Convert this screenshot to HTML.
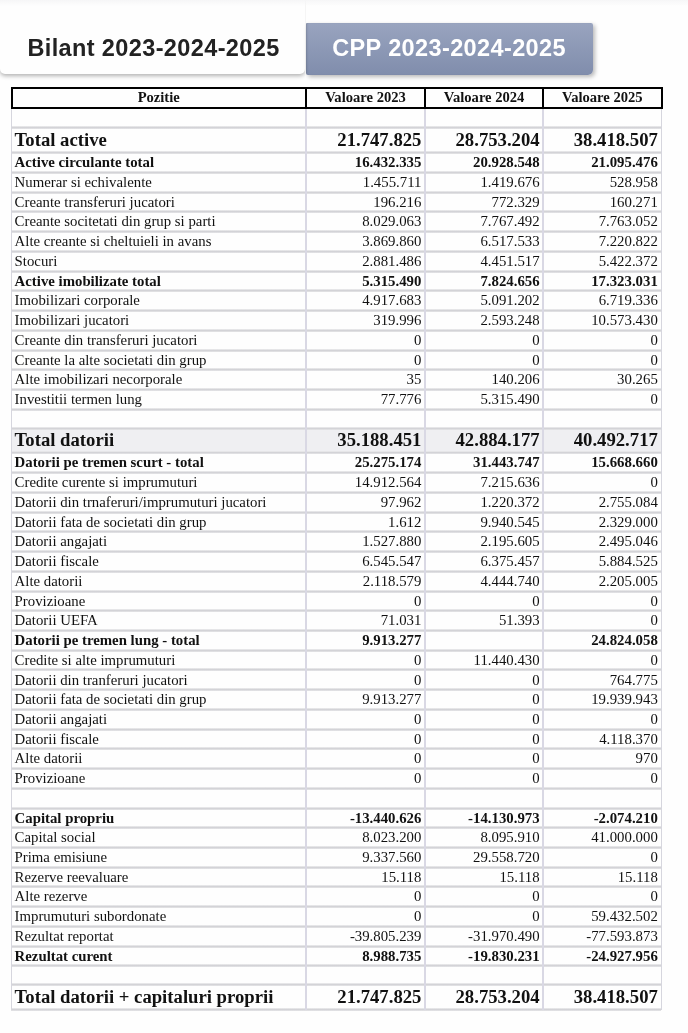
<!DOCTYPE html>
<html><head><meta charset="utf-8"><style>
*{margin:0;padding:0;box-sizing:border-box}
html,body{width:688px;height:1033px;overflow:hidden;background:#fefefe;position:relative}
.t{position:absolute;white-space:nowrap;font-family:"Liberation Serif",serif;color:#111;line-height:1;-webkit-text-stroke:0px #111}
.hl{position:absolute;height:3px;background:linear-gradient(#efeff0,#d3d3d7 50%,#e6e6e8)}
.vl{position:absolute;width:2px;background:#d9d8e4}
.b{font-weight:bold}
.tab1{position:absolute;left:0;top:-10px;width:305.3px;height:84.1px;background:#fefefe;border-radius:0 0 5px 5px;box-shadow:0 2px 4px 0 rgba(0,0,0,.3);clip-path:inset(0 0 -8px 0)} .tab2{position:absolute;left:305.7px;top:23px;width:287.3px;height:51.5px;background:linear-gradient(#99a4bf,#808dac);border-radius:1px 2px 5px 2px;box-shadow:2px 2px 4px rgba(0,0,0,.28), inset 2px 0 2px -1px rgba(0,0,0,.15)} .tt{position:absolute;font:bold 23.5px 'Liberation Sans',sans-serif;letter-spacing:0.38px;white-space:nowrap;line-height:1} .topband{position:absolute;left:0;top:0;width:688px;height:6px;background:linear-gradient(rgba(246,246,247,1),rgba(254,254,254,0))}</style></head>
<body><div id="w" style="position:absolute;left:0;top:0;width:688px;height:1033px;will-change:transform">
<div class='tab1'></div><div class='tab2'></div><div class='topband'></div><div class='tt' style='left:27.4px;top:37px;color:#222'>Bilant 2023-2024-2025</div><div class='tt' style='left:332.2px;top:37px;color:#fff'>CPP 2023-2024-2025</div>
<div style="position:absolute;left:11.4px;width:650.0px;top:428.4px;height:24.0px;background:#efeff2"></div>
<div class="hl" style="left:11.4px;width:650.0px;top:126.10px"></div>
<div class="hl" style="left:11.4px;width:650.0px;top:151.04px"></div>
<div class="hl" style="left:11.4px;width:650.0px;top:170.79px"></div>
<div class="hl" style="left:11.4px;width:650.0px;top:190.55px"></div>
<div class="hl" style="left:11.4px;width:650.0px;top:210.31px"></div>
<div class="hl" style="left:11.4px;width:650.0px;top:230.06px"></div>
<div class="hl" style="left:11.4px;width:650.0px;top:249.81px"></div>
<div class="hl" style="left:11.4px;width:650.0px;top:269.57px"></div>
<div class="hl" style="left:11.4px;width:650.0px;top:289.32px"></div>
<div class="hl" style="left:11.4px;width:650.0px;top:309.08px"></div>
<div class="hl" style="left:11.4px;width:650.0px;top:328.83px"></div>
<div class="hl" style="left:11.4px;width:650.0px;top:348.59px"></div>
<div class="hl" style="left:11.4px;width:650.0px;top:368.34px"></div>
<div class="hl" style="left:11.4px;width:650.0px;top:388.10px"></div>
<div class="hl" style="left:11.4px;width:650.0px;top:407.86px"></div>
<div class="hl" style="left:11.4px;width:650.0px;top:426.90px"></div>
<div class="hl" style="left:11.4px;width:650.0px;top:450.90px"></div>
<div class="hl" style="left:11.4px;width:650.0px;top:471.25px"></div>
<div class="hl" style="left:11.4px;width:650.0px;top:490.98px"></div>
<div class="hl" style="left:11.4px;width:650.0px;top:510.70px"></div>
<div class="hl" style="left:11.4px;width:650.0px;top:530.42px"></div>
<div class="hl" style="left:11.4px;width:650.0px;top:550.14px"></div>
<div class="hl" style="left:11.4px;width:650.0px;top:569.87px"></div>
<div class="hl" style="left:11.4px;width:650.0px;top:589.59px"></div>
<div class="hl" style="left:11.4px;width:650.0px;top:609.31px"></div>
<div class="hl" style="left:11.4px;width:650.0px;top:629.03px"></div>
<div class="hl" style="left:11.4px;width:650.0px;top:648.76px"></div>
<div class="hl" style="left:11.4px;width:650.0px;top:668.48px"></div>
<div class="hl" style="left:11.4px;width:650.0px;top:688.20px"></div>
<div class="hl" style="left:11.4px;width:650.0px;top:707.93px"></div>
<div class="hl" style="left:11.4px;width:650.0px;top:727.65px"></div>
<div class="hl" style="left:11.4px;width:650.0px;top:747.37px"></div>
<div class="hl" style="left:11.4px;width:650.0px;top:767.09px"></div>
<div class="hl" style="left:11.4px;width:650.0px;top:786.82px"></div>
<div class="hl" style="left:11.4px;width:650.0px;top:806.54px"></div>
<div class="hl" style="left:11.4px;width:650.0px;top:826.26px"></div>
<div class="hl" style="left:11.4px;width:650.0px;top:845.98px"></div>
<div class="hl" style="left:11.4px;width:650.0px;top:865.71px"></div>
<div class="hl" style="left:11.4px;width:650.0px;top:885.43px"></div>
<div class="hl" style="left:11.4px;width:650.0px;top:905.15px"></div>
<div class="hl" style="left:11.4px;width:650.0px;top:924.87px"></div>
<div class="hl" style="left:11.4px;width:650.0px;top:944.60px"></div>
<div class="hl" style="left:11.4px;width:650.0px;top:964.30px"></div>
<div class="hl" style="left:11.4px;width:650.0px;top:983.40px"></div>
<div class="hl" style="left:11.4px;width:650.0px;top:1007.90px"></div>
<div style="position:absolute;background:#d6d6de;width:1.2px;left:10.80px;top:107.7px;height:902.70px"></div>
<div class="vl" style="left:305.00px;top:107.7px;height:902.70px"></div>
<div class="vl" style="left:424.00px;top:107.7px;height:902.70px"></div>
<div class="vl" style="left:542.20px;top:107.7px;height:902.70px"></div>
<div style="position:absolute;background:#d6d6de;width:1.2px;left:660.80px;top:107.7px;height:902.70px"></div>
<div style="position:absolute;left:11px;top:87.2px;width:652px;height:21.5px;border:2px solid #000"></div>
<div style="position:absolute;left:305.0px;top:88.2px;width:2px;height:19.5px;background:#000"></div>
<div style="position:absolute;left:424.0px;top:88.2px;width:2px;height:19.5px;background:#000"></div>
<div style="position:absolute;left:542.2px;top:88.2px;width:2px;height:19.5px;background:#000"></div>
<div class="t b" style="left:-41.30px;width:400px;text-align:center;top:89.79px;font-size:14.6px">Pozitie</div>
<div class="t b" style="left:165.50px;width:400px;text-align:center;top:89.79px;font-size:14.6px">Valoare 2023</div>
<div class="t b" style="left:284.10px;width:400px;text-align:center;top:89.79px;font-size:14.6px">Valoare 2024</div>
<div class="t b" style="left:402.30px;width:400px;text-align:center;top:89.79px;font-size:14.6px">Valoare 2025</div>
<div class="t b" style="left:14.60px;top:130.68px;font-size:18.7px">Total active</div>
<div class="t b" style="right:266.60px;top:130.68px;font-size:18.7px">21.747.825</div>
<div class="t b" style="right:148.40px;top:130.68px;font-size:18.7px">28.753.204</div>
<div class="t b" style="right:30.20px;top:130.68px;font-size:18.7px">38.418.507</div>
<div class="t b" style="left:14.60px;top:155.11px;font-size:14.8px">Active circulante total</div>
<div class="t b" style="right:266.60px;top:155.11px;font-size:14.8px">16.432.335</div>
<div class="t b" style="right:148.40px;top:155.11px;font-size:14.8px">20.928.548</div>
<div class="t b" style="right:30.20px;top:155.11px;font-size:14.8px">21.095.476</div>
<div class="t" style="left:14.60px;top:174.86px;font-size:14.8px">Numerar si echivalente</div>
<div class="t" style="right:266.60px;top:174.86px;font-size:14.8px">1.455.711</div>
<div class="t" style="right:148.40px;top:174.86px;font-size:14.8px">1.419.676</div>
<div class="t" style="right:30.20px;top:174.86px;font-size:14.8px">528.958</div>
<div class="t" style="left:14.60px;top:194.62px;font-size:14.8px">Creante transferuri jucatori</div>
<div class="t" style="right:266.60px;top:194.62px;font-size:14.8px">196.216</div>
<div class="t" style="right:148.40px;top:194.62px;font-size:14.8px">772.329</div>
<div class="t" style="right:30.20px;top:194.62px;font-size:14.8px">160.271</div>
<div class="t" style="left:14.60px;top:214.37px;font-size:14.8px">Creante socitetati din grup si parti</div>
<div class="t" style="right:266.60px;top:214.37px;font-size:14.8px">8.029.063</div>
<div class="t" style="right:148.40px;top:214.37px;font-size:14.8px">7.767.492</div>
<div class="t" style="right:30.20px;top:214.37px;font-size:14.8px">7.763.052</div>
<div class="t" style="left:14.60px;top:234.13px;font-size:14.8px">Alte creante si cheltuieli in avans</div>
<div class="t" style="right:266.60px;top:234.13px;font-size:14.8px">3.869.860</div>
<div class="t" style="right:148.40px;top:234.13px;font-size:14.8px">6.517.533</div>
<div class="t" style="right:30.20px;top:234.13px;font-size:14.8px">7.220.822</div>
<div class="t" style="left:14.60px;top:253.88px;font-size:14.8px">Stocuri</div>
<div class="t" style="right:266.60px;top:253.88px;font-size:14.8px">2.881.486</div>
<div class="t" style="right:148.40px;top:253.88px;font-size:14.8px">4.451.517</div>
<div class="t" style="right:30.20px;top:253.88px;font-size:14.8px">5.422.372</div>
<div class="t b" style="left:14.60px;top:273.64px;font-size:14.8px">Active imobilizate total</div>
<div class="t b" style="right:266.60px;top:273.64px;font-size:14.8px">5.315.490</div>
<div class="t b" style="right:148.40px;top:273.64px;font-size:14.8px">7.824.656</div>
<div class="t b" style="right:30.20px;top:273.64px;font-size:14.8px">17.323.031</div>
<div class="t" style="left:14.60px;top:293.39px;font-size:14.8px">Imobilizari corporale</div>
<div class="t" style="right:266.60px;top:293.39px;font-size:14.8px">4.917.683</div>
<div class="t" style="right:148.40px;top:293.39px;font-size:14.8px">5.091.202</div>
<div class="t" style="right:30.20px;top:293.39px;font-size:14.8px">6.719.336</div>
<div class="t" style="left:14.60px;top:313.15px;font-size:14.8px">Imobilizari jucatori</div>
<div class="t" style="right:266.60px;top:313.15px;font-size:14.8px">319.996</div>
<div class="t" style="right:148.40px;top:313.15px;font-size:14.8px">2.593.248</div>
<div class="t" style="right:30.20px;top:313.15px;font-size:14.8px">10.573.430</div>
<div class="t" style="left:14.60px;top:332.90px;font-size:14.8px">Creante din transferuri jucatori</div>
<div class="t" style="right:266.60px;top:332.90px;font-size:14.8px">0</div>
<div class="t" style="right:148.40px;top:332.90px;font-size:14.8px">0</div>
<div class="t" style="right:30.20px;top:332.90px;font-size:14.8px">0</div>
<div class="t" style="left:14.60px;top:352.66px;font-size:14.8px">Creante la alte societati din grup</div>
<div class="t" style="right:266.60px;top:352.66px;font-size:14.8px">0</div>
<div class="t" style="right:148.40px;top:352.66px;font-size:14.8px">0</div>
<div class="t" style="right:30.20px;top:352.66px;font-size:14.8px">0</div>
<div class="t" style="left:14.60px;top:372.41px;font-size:14.8px">Alte imobilizari necorporale</div>
<div class="t" style="right:266.60px;top:372.41px;font-size:14.8px">35</div>
<div class="t" style="right:148.40px;top:372.41px;font-size:14.8px">140.206</div>
<div class="t" style="right:30.20px;top:372.41px;font-size:14.8px">30.265</div>
<div class="t" style="left:14.60px;top:392.17px;font-size:14.8px">Investitii termen lung</div>
<div class="t" style="right:266.60px;top:392.17px;font-size:14.8px">77.776</div>
<div class="t" style="right:148.40px;top:392.17px;font-size:14.8px">5.315.490</div>
<div class="t" style="right:30.20px;top:392.17px;font-size:14.8px">0</div>
<div class="t b" style="left:14.60px;top:430.54px;font-size:18.7px">Total datorii</div>
<div class="t b" style="right:266.60px;top:430.54px;font-size:18.7px">35.188.451</div>
<div class="t b" style="right:148.40px;top:430.54px;font-size:18.7px">42.884.177</div>
<div class="t b" style="right:30.20px;top:430.54px;font-size:18.7px">40.492.717</div>
<div class="t b" style="left:14.60px;top:454.87px;font-size:14.8px">Datorii pe tremen scurt - total</div>
<div class="t b" style="right:266.60px;top:454.87px;font-size:14.8px">25.275.174</div>
<div class="t b" style="right:148.40px;top:454.87px;font-size:14.8px">31.443.747</div>
<div class="t b" style="right:30.20px;top:454.87px;font-size:14.8px">15.668.660</div>
<div class="t" style="left:14.60px;top:475.29px;font-size:14.8px">Credite curente si imprumuturi</div>
<div class="t" style="right:266.60px;top:475.29px;font-size:14.8px">14.912.564</div>
<div class="t" style="right:148.40px;top:475.29px;font-size:14.8px">7.215.636</div>
<div class="t" style="right:30.20px;top:475.29px;font-size:14.8px">0</div>
<div class="t" style="left:14.60px;top:495.01px;font-size:14.8px">Datorii din trnaferuri/imprumuturi jucatori</div>
<div class="t" style="right:266.60px;top:495.01px;font-size:14.8px">97.962</div>
<div class="t" style="right:148.40px;top:495.01px;font-size:14.8px">1.220.372</div>
<div class="t" style="right:30.20px;top:495.01px;font-size:14.8px">2.755.084</div>
<div class="t" style="left:14.60px;top:514.73px;font-size:14.8px">Datorii fata de societati din grup</div>
<div class="t" style="right:266.60px;top:514.73px;font-size:14.8px">1.612</div>
<div class="t" style="right:148.40px;top:514.73px;font-size:14.8px">9.940.545</div>
<div class="t" style="right:30.20px;top:514.73px;font-size:14.8px">2.329.000</div>
<div class="t" style="left:14.60px;top:534.46px;font-size:14.8px">Datorii angajati</div>
<div class="t" style="right:266.60px;top:534.46px;font-size:14.8px">1.527.880</div>
<div class="t" style="right:148.40px;top:534.46px;font-size:14.8px">2.195.605</div>
<div class="t" style="right:30.20px;top:534.46px;font-size:14.8px">2.495.046</div>
<div class="t" style="left:14.60px;top:554.18px;font-size:14.8px">Datorii fiscale</div>
<div class="t" style="right:266.60px;top:554.18px;font-size:14.8px">6.545.547</div>
<div class="t" style="right:148.40px;top:554.18px;font-size:14.8px">6.375.457</div>
<div class="t" style="right:30.20px;top:554.18px;font-size:14.8px">5.884.525</div>
<div class="t" style="left:14.60px;top:573.90px;font-size:14.8px">Alte datorii</div>
<div class="t" style="right:266.60px;top:573.90px;font-size:14.8px">2.118.579</div>
<div class="t" style="right:148.40px;top:573.90px;font-size:14.8px">4.444.740</div>
<div class="t" style="right:30.20px;top:573.90px;font-size:14.8px">2.205.005</div>
<div class="t" style="left:14.60px;top:593.62px;font-size:14.8px">Provizioane</div>
<div class="t" style="right:266.60px;top:593.62px;font-size:14.8px">0</div>
<div class="t" style="right:148.40px;top:593.62px;font-size:14.8px">0</div>
<div class="t" style="right:30.20px;top:593.62px;font-size:14.8px">0</div>
<div class="t" style="left:14.60px;top:613.35px;font-size:14.8px">Datorii UEFA</div>
<div class="t" style="right:266.60px;top:613.35px;font-size:14.8px">71.031</div>
<div class="t" style="right:148.40px;top:613.35px;font-size:14.8px">51.393</div>
<div class="t" style="right:30.20px;top:613.35px;font-size:14.8px">0</div>
<div class="t b" style="left:14.60px;top:633.07px;font-size:14.8px">Datorii pe tremen lung - total</div>
<div class="t b" style="right:266.60px;top:633.07px;font-size:14.8px">9.913.277</div>
<div class="t b" style="right:30.20px;top:633.07px;font-size:14.8px">24.824.058</div>
<div class="t" style="left:14.60px;top:652.79px;font-size:14.8px">Credite si alte imprumuturi</div>
<div class="t" style="right:266.60px;top:652.79px;font-size:14.8px">0</div>
<div class="t" style="right:148.40px;top:652.79px;font-size:14.8px">11.440.430</div>
<div class="t" style="right:30.20px;top:652.79px;font-size:14.8px">0</div>
<div class="t" style="left:14.60px;top:672.52px;font-size:14.8px">Datorii din tranferuri jucatori</div>
<div class="t" style="right:266.60px;top:672.52px;font-size:14.8px">0</div>
<div class="t" style="right:148.40px;top:672.52px;font-size:14.8px">0</div>
<div class="t" style="right:30.20px;top:672.52px;font-size:14.8px">764.775</div>
<div class="t" style="left:14.60px;top:692.24px;font-size:14.8px">Datorii fata de societati din grup</div>
<div class="t" style="right:266.60px;top:692.24px;font-size:14.8px">9.913.277</div>
<div class="t" style="right:148.40px;top:692.24px;font-size:14.8px">0</div>
<div class="t" style="right:30.20px;top:692.24px;font-size:14.8px">19.939.943</div>
<div class="t" style="left:14.60px;top:711.96px;font-size:14.8px">Datorii angajati</div>
<div class="t" style="right:266.60px;top:711.96px;font-size:14.8px">0</div>
<div class="t" style="right:148.40px;top:711.96px;font-size:14.8px">0</div>
<div class="t" style="right:30.20px;top:711.96px;font-size:14.8px">0</div>
<div class="t" style="left:14.60px;top:731.68px;font-size:14.8px">Datorii fiscale</div>
<div class="t" style="right:266.60px;top:731.68px;font-size:14.8px">0</div>
<div class="t" style="right:148.40px;top:731.68px;font-size:14.8px">0</div>
<div class="t" style="right:30.20px;top:731.68px;font-size:14.8px">4.118.370</div>
<div class="t" style="left:14.60px;top:751.41px;font-size:14.8px">Alte datorii</div>
<div class="t" style="right:266.60px;top:751.41px;font-size:14.8px">0</div>
<div class="t" style="right:148.40px;top:751.41px;font-size:14.8px">0</div>
<div class="t" style="right:30.20px;top:751.41px;font-size:14.8px">970</div>
<div class="t" style="left:14.60px;top:771.13px;font-size:14.8px">Provizioane</div>
<div class="t" style="right:266.60px;top:771.13px;font-size:14.8px">0</div>
<div class="t" style="right:148.40px;top:771.13px;font-size:14.8px">0</div>
<div class="t" style="right:30.20px;top:771.13px;font-size:14.8px">0</div>
<div class="t b" style="left:14.60px;top:810.57px;font-size:14.8px">Capital propriu</div>
<div class="t b" style="right:266.60px;top:810.57px;font-size:14.8px">-13.440.626</div>
<div class="t b" style="right:148.40px;top:810.57px;font-size:14.8px">-14.130.973</div>
<div class="t b" style="right:30.20px;top:810.57px;font-size:14.8px">-2.074.210</div>
<div class="t" style="left:14.60px;top:830.30px;font-size:14.8px">Capital social</div>
<div class="t" style="right:266.60px;top:830.30px;font-size:14.8px">8.023.200</div>
<div class="t" style="right:148.40px;top:830.30px;font-size:14.8px">8.095.910</div>
<div class="t" style="right:30.20px;top:830.30px;font-size:14.8px">41.000.000</div>
<div class="t" style="left:14.60px;top:850.02px;font-size:14.8px">Prima emisiune</div>
<div class="t" style="right:266.60px;top:850.02px;font-size:14.8px">9.337.560</div>
<div class="t" style="right:148.40px;top:850.02px;font-size:14.8px">29.558.720</div>
<div class="t" style="right:30.20px;top:850.02px;font-size:14.8px">0</div>
<div class="t" style="left:14.60px;top:869.74px;font-size:14.8px">Rezerve reevaluare</div>
<div class="t" style="right:266.60px;top:869.74px;font-size:14.8px">15.118</div>
<div class="t" style="right:148.40px;top:869.74px;font-size:14.8px">15.118</div>
<div class="t" style="right:30.20px;top:869.74px;font-size:14.8px">15.118</div>
<div class="t" style="left:14.60px;top:889.47px;font-size:14.8px">Alte rezerve</div>
<div class="t" style="right:266.60px;top:889.47px;font-size:14.8px">0</div>
<div class="t" style="right:148.40px;top:889.47px;font-size:14.8px">0</div>
<div class="t" style="right:30.20px;top:889.47px;font-size:14.8px">0</div>
<div class="t" style="left:14.60px;top:909.19px;font-size:14.8px">Imprumuturi subordonate</div>
<div class="t" style="right:266.60px;top:909.19px;font-size:14.8px">0</div>
<div class="t" style="right:148.40px;top:909.19px;font-size:14.8px">0</div>
<div class="t" style="right:30.20px;top:909.19px;font-size:14.8px">59.432.502</div>
<div class="t" style="left:14.60px;top:928.91px;font-size:14.8px">Rezultat reportat</div>
<div class="t" style="right:266.60px;top:928.91px;font-size:14.8px">-39.805.239</div>
<div class="t" style="right:148.40px;top:928.91px;font-size:14.8px">-31.970.490</div>
<div class="t" style="right:30.20px;top:928.91px;font-size:14.8px">-77.593.873</div>
<div class="t b" style="left:14.60px;top:948.61px;font-size:14.8px">Rezultat curent</div>
<div class="t b" style="right:266.60px;top:948.61px;font-size:14.8px">8.988.735</div>
<div class="t b" style="right:148.40px;top:948.61px;font-size:14.8px">-19.830.231</div>
<div class="t b" style="right:30.20px;top:948.61px;font-size:14.8px">-24.927.956</div>
<div class="t b" style="left:14.60px;top:987.54px;font-size:18.7px">Total datorii + capitaluri proprii</div>
<div class="t b" style="right:266.60px;top:987.54px;font-size:18.7px">21.747.825</div>
<div class="t b" style="right:148.40px;top:987.54px;font-size:18.7px">28.753.204</div>
<div class="t b" style="right:30.20px;top:987.54px;font-size:18.7px">38.418.507</div>
</div></body></html>
